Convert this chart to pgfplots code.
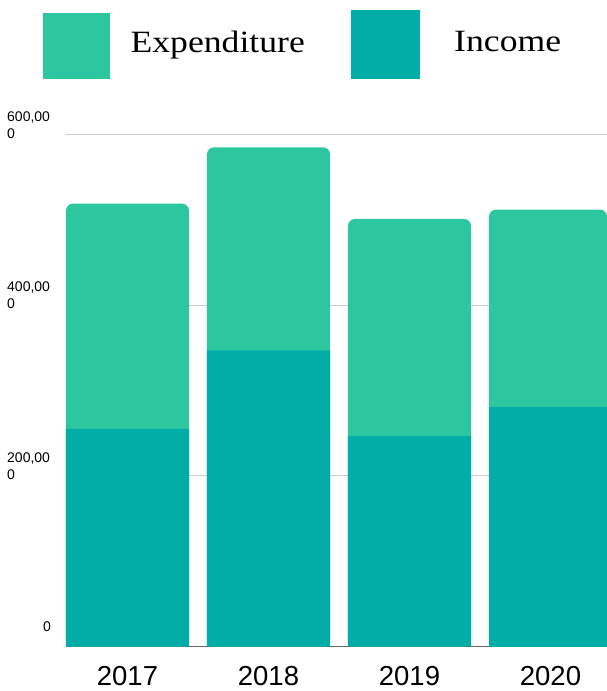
\documentclass[border=0pt]{standalone}
\usepackage{fontspec}
\setmainfont{Liberation Sans}
\newfontfamily\legfont[FakeStretch=1.15]{Liberation Serif}
\usepackage{pgfplots}
\pgfplotsset{compat=1.18}
\usepackage{pgfplotstable}
\definecolor{expcol}{HTML}{2DC79F}
\definecolor{inccol}{HTML}{02ADA8}
\definecolor{gridcol}{HTML}{CCCCCC}
\definecolor{axcol}{HTML}{666666}

\pgfplotstableread{
x year total income
0 2017 519000 255000
1 2018 585000 347000
2 2019 501000 246500
}\mainbars
\pgfplotstableread{
x year total income
3 2020 512000 280500
}\lastbar

\begin{document}
\begin{tikzpicture}
\begin{axis}[
  at={(0,0)}, anchor=south west,
  scale only axis, width=541pt, height=512pt,
  xmin=-0.43617, xmax=3.40071,
  ymin=0, ymax=600000,
  axis x line*=bottom, axis y line*=left,
  x axis line style={draw=axcol, line width=1pt, -},
  y axis line style={draw=none},
  major tick length=0pt,
  xtick={0,1,2,3}, xticklabels={2017,2018,2019,2020},
  xticklabel style={font=\fontsize{27.5}{30}\selectfont, inner sep=0pt, yshift=-20pt},
  ytick={0,200000,400000,600000},
  yticklabels={{\hspace*{36pt}\raisebox{19pt}{0}},{200,00\\0},{400,00\\0},{600,00\\0}},
  yticklabel style={font=\fontsize{14}{17}\selectfont, align=left, anchor=south west, inner sep=0pt, xshift=-59pt, yshift=-4pt},
  scaled y ticks=false,
  ymajorgrids, grid style={draw=gridcol, line width=0.8pt},
  legend columns=2,
  legend cell align=left,
  legend style={at={(rel axis cs:0,1)}, anchor=north west, xshift=-23pt, yshift=124.5pt,
    draw=none, fill=none, inner sep=0pt,
    font=\legfont\fontsize{31}{34}\selectfont,
    nodes={inner sep=0pt},
    /tikz/column 1/.style={column sep=21pt},
    /tikz/column 2/.style={column sep=46pt},
    /tikz/column 3/.style={column sep=35pt}},
]
\addlegendimage{legend image code/.code={\fill[expcol] (0pt,-36pt) rectangle (66pt,29pt);}}
\addlegendentry{Expenditure}
\addlegendimage{legend image code/.code={\fill[inccol] (0pt,-36pt) rectangle (68pt,32pt);}}
\addlegendentry{Income}

\addplot[ybar, bar width=123pt, bar shift=0pt, fill=expcol, draw=none, rounded corners=7pt, forget plot] table[x=x, y=total]{\mainbars};
\addplot[ybar, bar width=118pt, bar shift=-2.5pt, fill=expcol, draw=none, rounded corners=7pt, forget plot] table[x=x, y=total]{\lastbar};
\addplot[ybar, bar width=123pt, bar shift=0pt, fill=inccol, draw=none, forget plot] table[x=x, y=income]{\mainbars};
\addplot[ybar, bar width=118pt, bar shift=-2.5pt, fill=inccol, draw=none, forget plot] table[x=x, y=income]{\lastbar};
\end{axis}
\pgfresetboundingbox
\path[use as bounding box] (-66pt,-44.5pt) rectangle (541pt,646.5pt);
\end{tikzpicture}
\end{document}
